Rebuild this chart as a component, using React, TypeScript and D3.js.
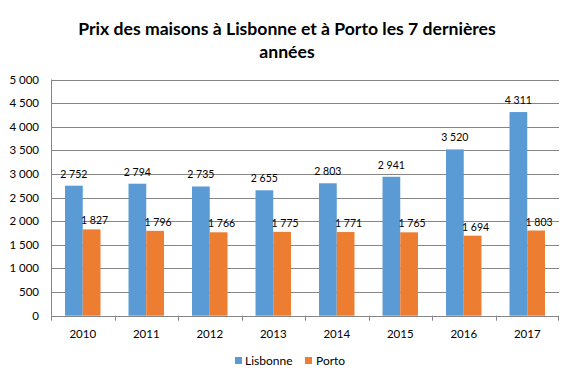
import React from "react";
import * as d3 from "d3";

const years = ["2010", "2011", "2012", "2013", "2014", "2015", "2016", "2017"];
const lisbonne = [2752, 2794, 2735, 2655, 2803, 2941, 3520, 4311];
const porto = [1827, 1796, 1766, 1775, 1771, 1765, 1694, 1803];
const seriesNames = ["Lisbonne", "Porto"];
const colors = ["#5B9BD5", "#ED7D31"];
const yTicks = [0, 500, 1000, 1500, 2000, 2500, 3000, 3500, 4000, 4500, 5000];

const W = 587, H = 379;
const left = 51, right = 559, top = 79.5, bottom = 315.7;
const fmt = (v: number) => {
  const s = String(v);
  return s.length > 3 ? s.slice(0, s.length - 3) + " " + s.slice(-3) : s;
};
const font = "Lato, 'Noto Sans', sans-serif";

export default function App() {
  const x = d3.scaleBand<string>().domain(years).range([left, right]).paddingInner(0).paddingOuter(0);
  const inner = d3.scaleBand<string>().domain(seriesNames).range([0, x.bandwidth()]).paddingInner(0).paddingOuter(0.79);
  const y = d3.scaleLinear().domain([0, 5000]).range([bottom, top]);
  const data = [lisbonne, porto];
  return (
    <svg width={W} height={H} style={{ position: "absolute", left: 0, top: 0, background: "#fff" }} fontFamily={font}>
      <rect x={0} y={0} width={W} height={H} fill="#fff" />
      <text x={287} y={35} textAnchor="middle" fontSize={17.6} fontWeight="bold" fill="#000">
        Prix des maisons à  Lisbonne et à Porto les 7 dernières
      </text>
      <text x={287} y={57.5} textAnchor="middle" fontSize={17.6} fontWeight="bold" fill="#000">années</text>
      {yTicks.map((t) => (
        <g key={t}>
          {t > 0 && <line x1={left} x2={right} y1={Math.round(y(t)) + 0.5} y2={Math.round(y(t)) + 0.5} stroke="#868686" strokeWidth={1} />}
          <text x={39} y={y(t) + 4} textAnchor="end" fontSize={11.5} fill="#000">{fmt(t)}</text>
        </g>
      ))}
      {data.map((vals, si) =>
        vals.map((v, i) => {
          const bx = (x(years[i]) as number) + (inner(seriesNames[si]) as number);
          const bw = inner.bandwidth();
          return (
            <g key={si + "-" + i}>
              <rect x={bx} y={y(v)} width={bw} height={bottom - y(v)} fill={colors[si]} />
              <text x={bx + bw / 2 + (si === 0 ? 0 : 3)} y={y(v) - (si === 0 ? 8 : 5)} textAnchor="middle" fontSize={10.5} fill="#000">{fmt(v)}</text>
            </g>
          );
        })
      )}
      <line x1={left + 0.5} x2={left + 0.5} y1={top} y2={bottom} stroke="#868686" />
      <line x1={left} x2={right} y1={Math.round(bottom) + 0.5} y2={Math.round(bottom) + 0.5} stroke="#868686" />
      {years.map((yr, i) => (
        <line key={"t" + i} x1={Math.round(x(yr) as number) + 0.5} x2={Math.round(x(yr) as number) + 0.5} y1={bottom} y2={bottom + 5} stroke="#868686" />
      ))}
      <line x1={right - 0.5} x2={right - 0.5} y1={bottom} y2={bottom + 5} stroke="#868686" />
      {years.map((yr) => (
        <text key={"l" + yr} x={(x(yr) as number) + x.bandwidth() / 2} y={337.5} textAnchor="middle" fontSize={11.5} fill="#000">{yr}</text>
      ))}
      <g>
        <rect x={235} y={357} width={7} height={7} fill={colors[0]} />
        <text x={245} y={365} fontSize={12} fill="#000">{seriesNames[0]}</text>
        <rect x={305} y={357} width={7} height={7} fill={colors[1]} />
        <text x={316} y={365} fontSize={12} fill="#000">{seriesNames[1]}</text>
      </g>
    </svg>
  );
}
